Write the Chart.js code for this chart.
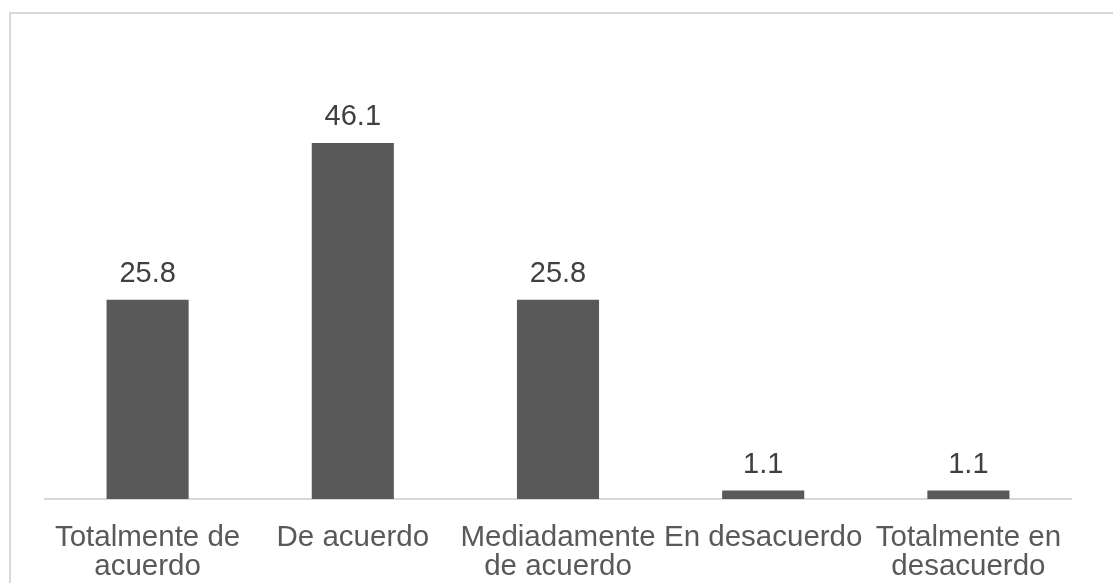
<!DOCTYPE html>
<html>
<head>
<meta charset="utf-8">
<script src="https://cdn.jsdelivr.net/npm/chart.js@4/dist/chart.umd.min.js"></script>
<style>
  html, body { margin: 0; padding: 0; background: #ffffff; }
  #wrap { position: relative; width: 1113px; height: 583px; overflow: hidden; }
  #frame { position: absolute; left: 9px; top: 12px; width: 1200px; height: 700px;
           border-left: 2px solid #d9d9d9; border-top: 2px solid #d9d9d9; box-sizing: border-box; }
  canvas { position: absolute; left: 0; top: 0; }
</style>
</head>
<body>
<div id="wrap">
  <div id="frame"></div>
  <canvas id="c" width="1113" height="583"></canvas>
</div>
<script>
const categories = [
  ["Totalmente de", "acuerdo"],
  ["De acuerdo"],
  ["Mediadamente", "de acuerdo"],
  ["En desacuerdo"],
  ["Totalmente en", "desacuerdo"]
];
const values = [25.8, 46.1, 25.8, 1.1, 1.1];
const valueLabels = ["25.8", "46.1", "25.8", "1.1", "1.1"];

const FONT = "'Liberation Sans', Arial, sans-serif";

const dataLabelPlugin = {
  id: 'dataLabels',
  afterDatasetsDraw(chart) {
    const ctx = chart.ctx;
    const meta = chart.getDatasetMeta(0);
    ctx.save();
    ctx.font = "29px " + FONT;
    ctx.fillStyle = "#404040";
    ctx.textAlign = "center";
    ctx.textBaseline = "alphabetic";
    meta.data.forEach((bar, i) => {
      ctx.fillText(valueLabels[i], bar.x, bar.y - 18);
    });
    ctx.restore();
  }
};

new Chart(document.getElementById('c'), {
  type: 'bar',
  data: {
    labels: categories,
    datasets: [{
      data: values,
      backgroundColor: '#595959',
      borderWidth: 0,
      barPercentage: 0.4,
      categoryPercentage: 1.0
    }]
  },
  options: {
    responsive: false,
    animation: false,
    devicePixelRatio: 1,
    layout: { padding: { left: 45, right: 42, top: 113, bottom: 0 } },
    plugins: { legend: { display: false }, tooltip: { enabled: false } },
    scales: {
      x: {
        grid: { display: false, drawTicks: false },
        border: { display: true, color: '#d9d9d9', width: 2 },
        ticks: {
          color: '#595959',
          font: { family: FONT, size: 29.5, lineHeight: 0.98 },
          padding: 24,
          maxRotation: 0,
          autoSkip: false
        },
        afterFit(scale) { scale.height = 84; }
      },
      y: {
        display: false,
        min: 0,
        max: 50
      }
    }
  },
  plugins: [dataLabelPlugin]
});
</script>
</body>
</html>
